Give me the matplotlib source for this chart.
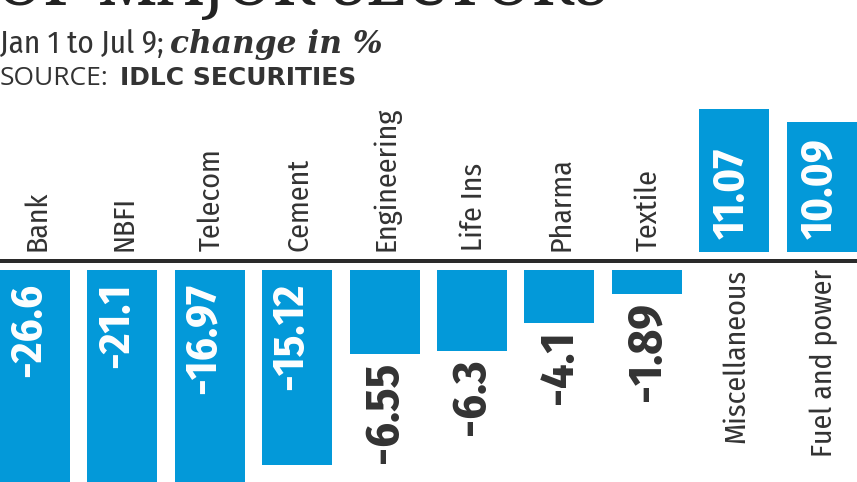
import matplotlib
matplotlib.use("Agg")
import matplotlib.pyplot as plt

# ---- data ----
categories = ["Bank", "NBFI", "Telecom", "Cement", "Engineering", "Life Ins",
              "Pharma", "Textile", "Miscellaneous", "Fuel and power"]
values = [-26.6, -21.1, -16.97, -15.12, -6.55, -6.3, -4.1, -1.89, 11.07, 10.09]
value_labels = ["-26.6", "-21.1", "-16.97", "-15.12", "-6.55", "-6.3", "-4.1", "-1.89", "11.07", "10.09"]

title_text = "OF MAJOR SECTORS"
subtitle_plain = "Jan 1 to Jul 9;"
subtitle_italic = "change in %"
source_plain = "SOURCE:"
source_bold = "IDLC SECURITIES"

# ---- style ----
W, H, DPI = 857, 482, 100
BLUE = "#0399d9"
DARK = "#333333"
COND = ["Fira Sans Condensed", "Roboto Condensed", "DejaVu Sans"]

k = 12.9            # pixels per percentage point
base_px = 261.0     # baseline position from top (px)
gap = 9.0 / k       # gap between baseline and bars (data units)
spacing = 87.4      # px between bar centres
first_c = 35.0      # px of first bar centre

fig = plt.figure(figsize=(W / DPI, H / DPI), dpi=DPI)
fig.patch.set_facecolor("white")
ax = fig.add_axes([0, 0, 1, 1])
ax.set_xlim(-first_c / spacing, (W - first_c) / spacing)
ax.set_ylim(-(H - base_px) / k, base_px / k)
ax.axis("off")

x = list(range(len(categories)))
bottoms = [gap if v > 0 else -gap for v in values]
ax.bar(x, values, bottom=bottoms, width=70 / spacing, color=BLUE, zorder=2)
ax.axhline(0, color="#2a2a2a", lw=4 * 72 / DPI, zorder=3)

for i, (cat, v, lab, b) in enumerate(zip(categories, values, value_labels, bottoms)):
    end = b + v
    if v < 0:
        # category name above the baseline
        ax.annotate(cat, xy=(i, 0), xytext=(2, 10), textcoords="offset pixels",
                    rotation=90, ha="center", va="bottom", fontsize=21.5,
                    family=COND, color=DARK)
        if v < -10:
            ax.annotate(lab, xy=(i, b), xytext=(-6, -13), textcoords="offset pixels",
                        rotation=90, ha="center", va="top", fontsize=32,
                        family=COND, fontweight="bold", color="white", zorder=4)
        else:
            ax.annotate(lab, xy=(i, end), xytext=(0, -7), textcoords="offset pixels",
                        rotation=90, ha="center", va="top", fontsize=34.5,
                        family=COND, fontweight="bold", color=DARK, zorder=4)
    else:
        ax.annotate(cat, xy=(i, 0), xytext=(2, -8), textcoords="offset pixels",
                    rotation=90, ha="center", va="top", fontsize=21.5,
                    family=COND, color=DARK)
        ax.annotate(lab, xy=(i, b), xytext=(-2, 13), textcoords="offset pixels",
                    rotation=90, ha="center", va="bottom", fontsize=32,
                    family=COND, fontweight="bold", color="white", zorder=4)


def px(xp, yp):
    return xp / W, 1 - yp / H


fig.text(*px(-4, 5), title_text, fontsize=46, family=["Noto Serif", "DejaVu Serif"],
         fontweight="bold", color="#222222", ha="left", va="baseline")
fig.text(*px(0, 53), subtitle_plain, fontsize=22.5, family=COND, color=DARK,
         ha="left", va="baseline")
fig.text(*px(170, 53), subtitle_italic, fontsize=22.5, family=["DejaVu Serif"],
         fontweight="bold", fontstyle="italic", color=DARK, ha="left", va="baseline")
fig.text(*px(0, 85), source_plain, fontsize=19, family=["Open Sans", "DejaVu Sans"],
         color=DARK, ha="left", va="baseline")
fig.text(*px(120, 85), source_bold, fontsize=18, family=["DejaVu Sans"],
         fontweight="bold", color=DARK, ha="left", va="baseline")

fig.savefig("out.png", dpi=DPI)
